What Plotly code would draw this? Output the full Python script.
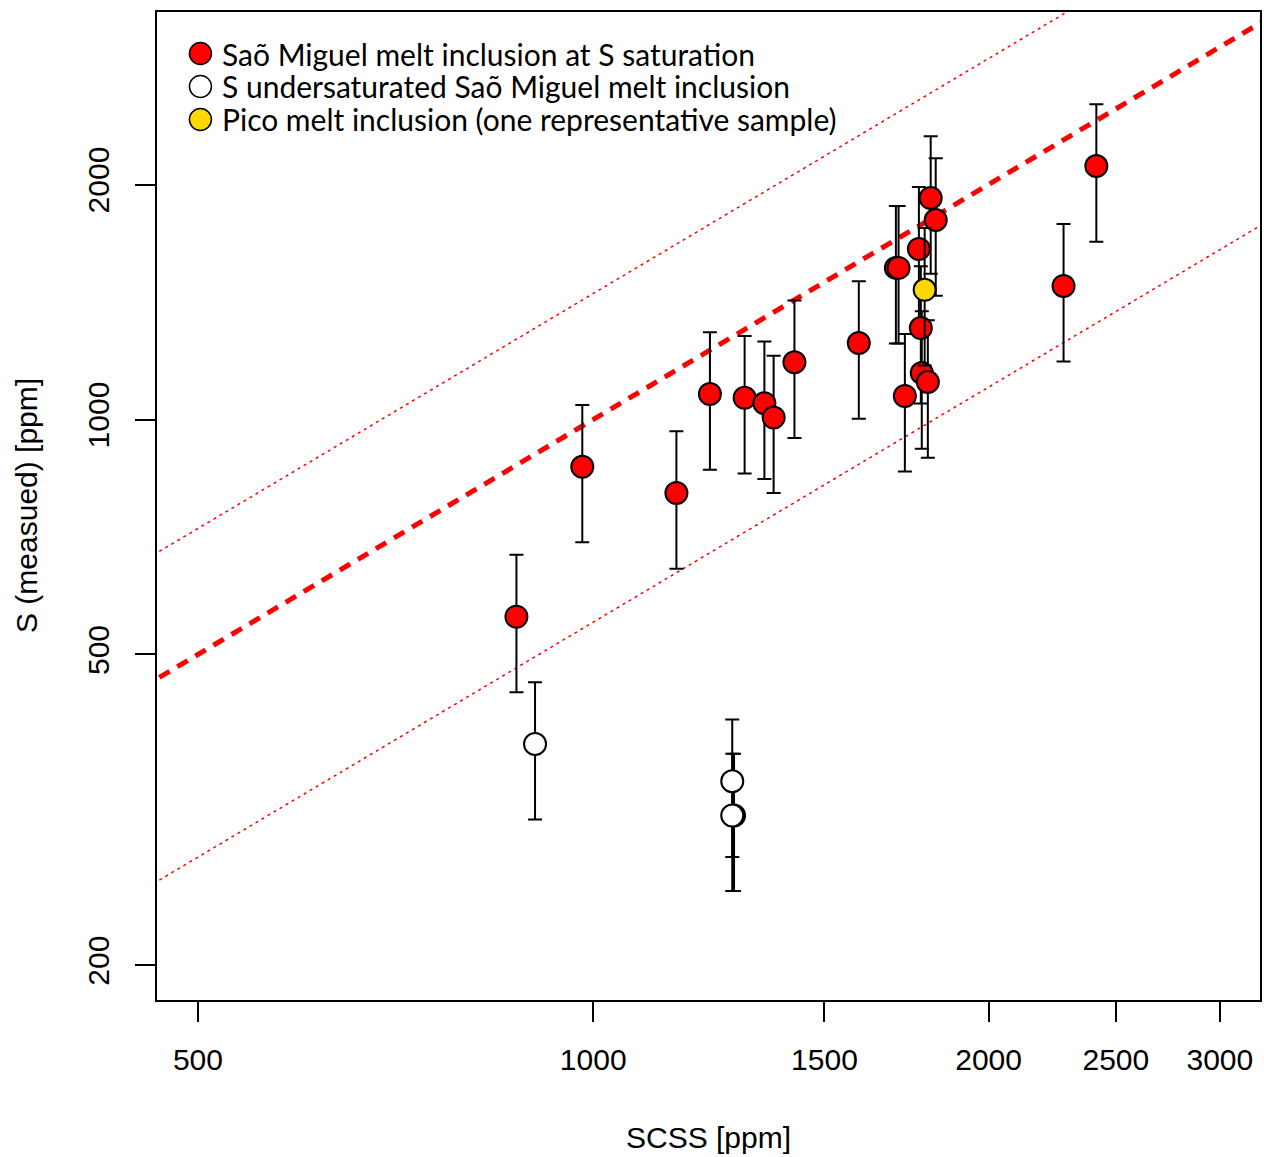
import numpy as np
import plotly.graph_objects as go

# ---- data ----
red_x = [874, 981, 1157, 1227, 1304, 1350, 1372, 1423, 1593, 1700, 1708, 1727,
         1770, 1776, 1779, 1798, 1807, 1823, 2281, 2416, 1280]
red_y = [559, 870, 805, 1078, 1066, 1049, 1006, 1184, 1253, 1564, 1564, 1072,
         1654, 1310, 1147, 1117, 1922, 1801, 1483, 2112, 311]
white_x = [903, 1276, 1276]
white_y = [384, 344, 311]
pico_x = [1788]
pico_y = [1466]
err_pct = 20

line_x = [300, 5000]
ratio_center = 1.0
ratio_upper = 1.45
ratio_lower = 0.55

x_ticks = [500, 1000, 1500, 2000, 2500, 3000]
y_ticks = [200, 500, 1000, 2000]

legend_labels = ["Saõ Miguel melt inclusion at S saturation",
                 "S undersaturated Saõ Miguel melt inclusion",
                 "Pico melt inclusion (one representative sample)"]
legend_colors = ["#ff0000", "#ffffff", "#ffd700"]

AX_FONT = dict(family="Arial", size=30, color="black")
LEG_FONT = dict(family="Lato", size=30, color="black")

fig = go.Figure()

# reference lines
fig.add_trace(go.Scatter(x=line_x, y=[v * ratio_upper for v in line_x], mode="lines",
                         line=dict(color="#ff0000", width=1.5, dash="3px,4px"),
                         showlegend=False, hoverinfo="skip"))
fig.add_trace(go.Scatter(x=line_x, y=[v * ratio_lower for v in line_x], mode="lines",
                         line=dict(color="#ff0000", width=1.5, dash="3px,4px"),
                         showlegend=False, hoverinfo="skip"))
fig.add_trace(go.Scatter(x=line_x, y=[v * ratio_center for v in line_x], mode="lines",
                         line=dict(color="#ff0000", width=5, dash="12px,9px"),
                         showlegend=False, hoverinfo="skip"))

err = dict(type="percent", value=err_pct, color="black", thickness=2, width=7)
mk_line = dict(color="black", width=2)

fig.add_trace(go.Scatter(x=red_x, y=red_y, mode="markers", error_y=err,
                         marker=dict(size=22, color="#ff0000", line=mk_line),
                         showlegend=False))
fig.add_trace(go.Scatter(x=white_x, y=white_y, mode="markers", error_y=err,
                         marker=dict(size=22, color="#ffffff", line=mk_line),
                         showlegend=False))
fig.add_trace(go.Scatter(x=pico_x, y=pico_y, mode="markers", error_y=err,
                         marker=dict(size=22, color="#ffd700", line=mk_line),
                         showlegend=False))

W, H = 1264, 1157
ML, MR, MT, MB = 157, 2, 12, 157
PW, PH = W - ML - MR, H - MT - MB

shapes = []
annotations = []
for i, (lab, col) in enumerate(zip(legend_labels, legend_colors)):
    cy = 53.5 + 33 * i
    yp = (H - MB - cy) / PH
    xp = (200.5 - ML) / PW
    shapes.append(dict(type="circle", xref="paper", yref="paper",
                       xsizemode="pixel", ysizemode="pixel",
                       xanchor=xp, yanchor=yp, x0=-11, x1=11, y0=-11, y1=11,
                       fillcolor=col, line=dict(color="black", width=1.5)))
    annotations.append(dict(text=lab, xref="paper", yref="paper",
                            x=(220 - ML) / PW, y=yp, xanchor="left", yanchor="middle",
                            showarrow=False, font=LEG_FONT))

annotations.append(dict(text="SCSS [ppm]", xref="paper", yref="paper", x=0.5, y=0,
                        xanchor="center", yanchor="middle", yshift=-137,
                        showarrow=False, font=AX_FONT))
annotations.append(dict(text="S (measued) [ppm]", xref="paper", yref="paper", x=0, y=0.5,
                        xanchor="center", yanchor="middle", xshift=-131, textangle=-90,
                        showarrow=False, font=AX_FONT))

fig.update_layout(
    width=W, height=H,
    margin=dict(l=ML, r=MR, t=MT, b=MB),
    plot_bgcolor="white", paper_bgcolor="white",
    shapes=shapes, annotations=annotations,
    showlegend=False,
    xaxis=dict(type="log", range=[2.66781, 3.50772], tickvals=x_ticks,
               ticktext=[str(v) for v in x_ticks], ticks="outside", ticklen=20,
               tickwidth=1.5, tickcolor="black", showline=True, linecolor="black",
               linewidth=2, mirror=True, showgrid=False, zeroline=False,
               tickfont=AX_FONT, ticklabelstandoff=12),
    yaxis=dict(type="log", range=[2.25634, 3.52204], tickvals=y_ticks,
               ticktext=[str(v) for v in y_ticks], ticks="outside", ticklen=20,
               tickwidth=1.5, tickcolor="black", showline=True, linecolor="black",
               linewidth=2, mirror=True, showgrid=False, zeroline=False,
               tickfont=AX_FONT, tickangle=-90, ticklabelstandoff=14),
)

fig.write_html("out.html")
